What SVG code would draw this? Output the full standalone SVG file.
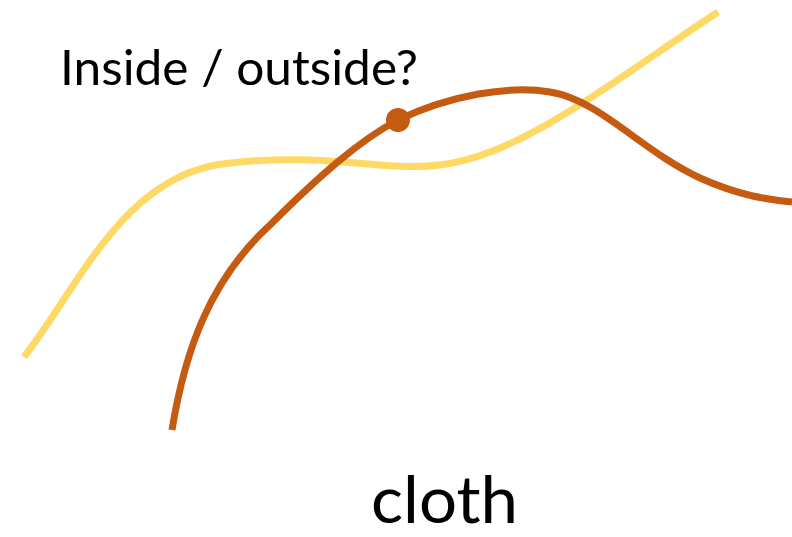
<svg xmlns="http://www.w3.org/2000/svg" width="792" height="537" viewBox="0 0 792 537">
<style>
.t{font-family:Lato,"Liberation Sans",sans-serif;fill:#000}
.c{fill:none;stroke-width:7}
</style>
<rect width="792" height="537" fill="#fff"/>
<g id="curves">
<path id="yellow" class="c" stroke="#FFD966" d="M24,357 C80,285 125,172 230,163 C330,152 380,172 440,165 C520,155 600,90 718,12"/>
<path id="orange" class="c" stroke="#C55A11" d="M172,430 C185,350 210,280 270,225 C320,175 360,140 398,120 C450,95 510,85 550,92 C600,100 640,150 700,178 C740,196 770,200 792,202"/>
</g>
<g id="point"><circle cx="398" cy="120" r="12" fill="#C55A11"/></g>
<g id="label-question"><text class="t" x="60" y="85" font-size="48" textLength="358" lengthAdjust="spacingAndGlyphs">Inside / outside?</text></g>
<g id="label-cloth"><text class="t" x="371" y="523" font-size="66" textLength="147" lengthAdjust="spacingAndGlyphs">cloth</text></g>
</svg>
